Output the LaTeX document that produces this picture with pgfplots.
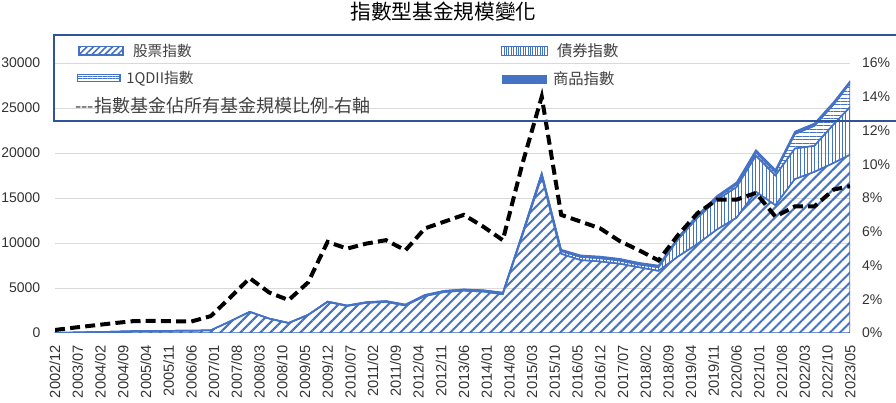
\documentclass[border=0pt]{standalone}
\usepackage{fontspec}
\setmainfont{Liberation Sans}
\newfontfamily\cjk{Noto Sans CJK TC}
\usepackage{pgfplots}
\pgfplotsset{compat=1.18}
\usepackage{pgfplotstable}
\usetikzlibrary{patterns.meta}
\definecolor{xblue}{HTML}{4472C4}
\definecolor{boxblue}{HTML}{2F5597}
\definecolor{gridgray}{HTML}{D9D9D9}
\definecolor{txt}{HTML}{333333}
\definecolor{legtxt}{HTML}{404040}

\pgfplotstableread{
m S B Q C R
0 30 0 0 0 0.18
6 60 0 0 0 0.32
12 100 0 0 0 0.45
18 150 0 0 0 0.58
24 200 0 0 0 0.70
30 230 0 0 0 0.72
36 250 0 0 0 0.70
42 260 0 0 0 0.68
48 300 0 0 0 1.0
54 1300 0 0 0 2.1
60 2350 10 0 0 3.25
66 1600 10 0 0 2.4
72 1100 20 10 0 1.95
78 2000 20 10 0 3.0
84 3450 30 20 0 5.4
90 3000 40 30 0 5.0
96 3350 50 40 0 5.3
102 3450 60 50 0 5.5
108 3050 60 60 0 4.9
114 4100 80 60 0 6.2
120 4550 80 60 20 6.6
126 4700 80 60 30 7.0
132 4600 80 60 40 6.3
138 4300 100 70 50 5.5
144 10800 150 80 50 10.0
150 17400 250 100 60 14.0
156 8800 300 100 80 7.0
162 8100 350 100 100 6.6
168 7950 350 120 100 6.2
174 7700 350 120 100 5.45
180 7300 300 120 100 4.9
186 6900 400 120 100 4.3
192 8500 1900 150 120 5.8
198 9900 2900 200 150 7.1
204 11500 3300 250 200 7.9
210 12800 3400 300 250 7.9
216 15700 4000 350 300 8.3
222 14200 3300 350 300 6.9
228 17100 3400 1600 300 7.5
234 17900 2900 2200 300 7.5
240 18900 4300 2200 300 8.5
245 19800 5300 2650 250 8.7
}\data

\begin{document}
\begin{tikzpicture}[x=1pt,y=1pt]
\useasboundingbox (-41.25,-52.5) rectangle (630.75,249.75);
\begin{axis}[
  at={(0,0)}, anchor=south west,
  scale only axis, width=596.25pt, height=202.5pt,
  xmin=0, xmax=245, ymin=0, ymax=30000,
  axis line style={draw=none},
  tick style={draw=none},
  ytick={0,5000,...,30000},
  scaled y ticks=false,
  ymajorgrids, grid style={gridgray, line width=0.75pt},
  xtick={0,7,...,245},
  xticklabels={2002/12,2003/07,2004/02,2004/09,2005/04,2005/11,2006/06,2007/01,2007/08,2008/03,2008/10,2009/05,2009/12,2010/07,2011/02,2011/09,2012/04,2012/11,2013/06,2014/01,2014/08,2015/03,2015/10,2016/05,2016/12,2017/07,2018/02,2018/09,2019/04,2019/11,2020/06,2021/01,2021/08,2022/03,2022/10,2023/05},
  x tick label style={rotate=90, anchor=east, xshift=-5.5pt, font=\fontsize{11}{12}\selectfont, text=txt},
  y tick label style={xshift=-7.5pt, font=\fontsize{10.5}{12}\selectfont, text=txt, /pgf/number format/1000 sep={}},
  /pgf/number format/assume math mode=true,
  stack plots=y,
]
\addplot[draw=xblue, line width=1.1pt, pattern={Lines[angle=45,distance=5.3pt,line width=1.5pt]}, pattern color=xblue] table[x=m,y=S]{\data} \closedcycle;
\addplot[draw=xblue, line width=1.1pt, pattern={Lines[angle=90,distance=2.6pt,line width=0.6pt]}, pattern color=xblue] table[x=m,y=B]{\data} \closedcycle;
\addplot[draw=xblue, line width=1.1pt, pattern={Lines[angle=0,distance=2.6pt,line width=0.6pt]}, pattern color=xblue] table[x=m,y=Q]{\data} \closedcycle;
\addplot[draw=xblue, line width=0.8pt, fill=xblue] table[x=m,y=C]{\data} \closedcycle;
\end{axis}
\begin{axis}[
  at={(0,0)}, anchor=south west,
  scale only axis, width=596.25pt, height=202.5pt,
  xmin=0, xmax=245, ymin=0, ymax=16,
  hide x axis,
  axis y line*=right,
  y axis line style={draw=none},
  tick style={draw=none},
  ytick={0,2,...,16},
  yticklabel={\pgfmathprintnumber{\tick}\%},
  y tick label style={xshift=5.5pt, font=\fontsize{10.5}{12}\selectfont, text=txt},
  /pgf/number format/assume math mode=true,
]
\addplot[black, line width=3pt, dash pattern=on 7.5pt off 3.9pt] table[x=m,y=R]{\data};
\end{axis}
% title
\node[font=\cjk\fontsize{15.5}{17}\selectfont, text=black] at (291.4,240.75) {指數型基金規模變化};
% legend box
\draw[boxblue, line width=1pt] (-0.75,159) rectangle (640,223.5);
\draw[xblue, line width=0.8pt, pattern={Lines[angle=45,distance=3.4pt,line width=1.2pt]}, pattern color=xblue] (18,208.5) rectangle (51,215);
\node[anchor=west, font=\cjk\fontsize{11}{13}\selectfont, text=legtxt] at (55,211.5) {股票指數};
\draw[xblue, line width=0.8pt, pattern={Lines[angle=90,distance=1.8pt,line width=0.5pt]}, pattern color=xblue] (335,208) rectangle (369.5,215);
\node[anchor=west, font=\cjk\fontsize{11.5}{13}\selectfont, text=legtxt] at (373,211.5) {債券指數};
\draw[xblue, line width=0.8pt, pattern={Lines[angle=0,distance=1.9pt,line width=0.5pt]}, pattern color=xblue] (17,188.5) rectangle (48.75,194);
\node[anchor=west, font=\cjk\fontsize{11}{13}\selectfont, text=legtxt] at (50,191) {1QDII指數};
\fill[xblue] (335,186.5) rectangle (368.75,193.5);
\node[anchor=west, font=\cjk\fontsize{11.5}{13}\selectfont, text=legtxt] at (370,190.5) {商品指數};
\node[anchor=west, font=\cjk\fontsize{13.5}{15}\selectfont, text=legtxt, inner sep=0pt] at (15,170.25) {---指數基金佔所有基金規模比例-右軸};
\end{tikzpicture}
\end{document}
